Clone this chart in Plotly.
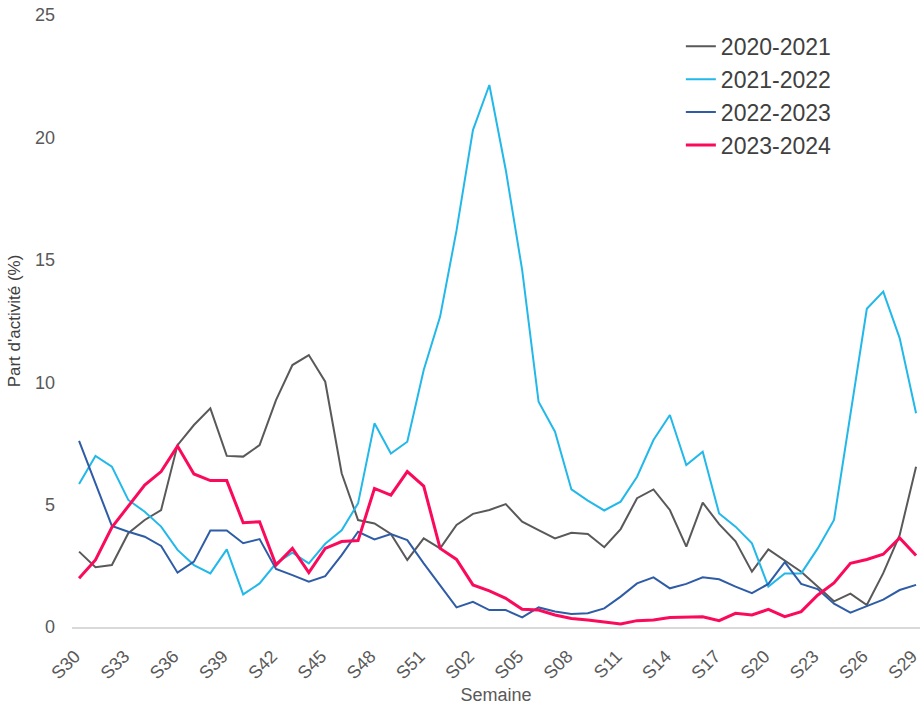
import plotly.graph_objects as go

weeks = [f"S{w:02d}" for w in range(30, 53)] + [f"S{w:02d}" for w in range(1, 30)]

s2020_2021 = [3.08, 2.44, 2.53, 3.83, 4.37, 4.78, 7.43, 8.25, 8.93, 6.99, 6.96, 7.43, 9.27, 10.70, 11.11, 10.02,
              6.28, 4.37, 4.23, 3.80, 2.74, 3.62, 3.21, 4.17, 4.62, 4.78, 5.02, 4.30, 3.96, 3.62, 3.85, 3.80,
              3.26, 4.00, 5.26, 5.62, 4.78, 3.28, 5.08, 4.20, 3.50, 2.26, 3.17, 2.71, 2.26, 1.65, 1.05, 1.36,
              0.90, 2.20, 3.75, 6.55]
s2021_2022 = [5.84, 6.99, 6.55, 5.19, 4.71, 4.10, 3.15, 2.53, 2.19, 3.17, 1.33, 1.78, 2.60, 3.04, 2.60, 3.40,
              3.95, 5.05, 8.32, 7.09, 7.57, 10.5, 12.68, 16.2, 20.30, 22.14, 18.67, 14.58, 9.20, 7.98, 5.62, 5.16,
              4.76, 5.12, 6.14, 7.64, 8.66, 6.62, 7.16, 4.64, 4.10, 3.42, 1.65, 2.19, 2.19, 3.20, 4.37, 8.70,
              13.0, 13.7, 11.8, 8.73]
s2022_2023 = [7.60, 5.87, 4.13, 3.89, 3.69, 3.31, 2.22, 2.67, 3.94, 3.94, 3.42, 3.59, 2.37, 2.12, 1.85, 2.08,
              2.94, 3.89, 3.58, 3.80, 3.55, 2.60, 1.72, 0.80, 1.03, 0.69, 0.69, 0.39, 0.80, 0.63, 0.53, 0.56,
              0.76, 1.24, 1.78, 2.03, 1.58, 1.76, 2.03, 1.95, 1.65, 1.38, 1.76, 2.65, 1.76, 1.55, 0.95, 0.59,
              0.85, 1.12, 1.51, 1.72]
s2023_2024 = [1.99, 2.74, 4.07, 4.92, 5.80, 6.35, 7.39, 6.25, 5.98, 5.98, 4.26, 4.30, 2.53, 3.21, 2.22, 3.21,
              3.49, 3.53, 5.66, 5.39, 6.35, 5.76, 3.21, 2.76, 1.72, 1.48, 1.17, 0.72, 0.69, 0.49, 0.35, 0.29,
              0.22, 0.12, 0.26, 0.29, 0.39, 0.39, 0.42, 0.26, 0.56, 0.49, 0.72, 0.42, 0.63, 1.30, 1.80, 2.60,
              2.76, 2.97, 3.64, 2.92]

series_names = ["2020-2021", "2021-2022", "2022-2023", "2023-2024"]
series_values = [s2020_2021, s2021_2022, s2022_2023, s2023_2024]
series_colors = ["#595959", "#22b8ea", "#2f5ca6", "#fb0a5b"]
series_widths = [2, 2, 2, 3]

x_idx = list(range(len(weeks)))
tick_idx = x_idx[::3]
tick_txt = weeks[::3]

FONT = "Liberation Sans, Arial, sans-serif"

fig = go.Figure()
for name, vals, col, w in zip(series_names, series_values, series_colors, series_widths):
    fig.add_trace(go.Scatter(x=x_idx, y=vals, mode="lines", name=name,
                             line=dict(color=col, width=w)))

fig.update_layout(
    width=921, height=705,
    margin=dict(l=72, r=1, t=15, b=78, autoexpand=False),
    paper_bgcolor="white", plot_bgcolor="white",
    font=dict(family=FONT, color="#595959", size=18),
    showlegend=True,
    legend=dict(x=0.718, y=0.984, xanchor="left", yanchor="top",
                font=dict(size=23, color="#404040", family=FONT),
                bgcolor="rgba(0,0,0,0)", borderwidth=0, tracegroupgap=0),
)
fig.update_xaxes(
    range=[-0.43, 51.24], tickmode="array", tickvals=tick_idx, ticktext=tick_txt,
    tickangle=-45, showgrid=False, zeroline=False,
    showline=True, linecolor="#d9d9d9", linewidth=1.5,
    ticks="", tickfont=dict(size=18, color="#595959"), ticklabeloverflow="allow",
    ticklabelstandoff=10, ticklabelshift=-4,
    title=dict(text="Semaine", font=dict(size=18, color="#595959"), standoff=38),
    automargin=False,
)
fig.update_yaxes(
    range=[0, 25], tickvals=[0, 5, 10, 15, 20, 25],
    showgrid=False, zeroline=False, showline=False, ticks="",
    ticklabelstandoff=16, tickfont=dict(size=18, color="#595959"), ticklabeloverflow="allow",
    title=dict(text="Part d'activité (%)", font=dict(size=17, color="#404040"), standoff=10),
    automargin=False,
)

# remove the default page margin so the 921x705 figure fills the window exactly
fig.write_html(
    "out.html",
    config={"displayModeBar": False},
    post_script="document.body.style.margin='0';document.body.style.overflow='hidden';",
)
